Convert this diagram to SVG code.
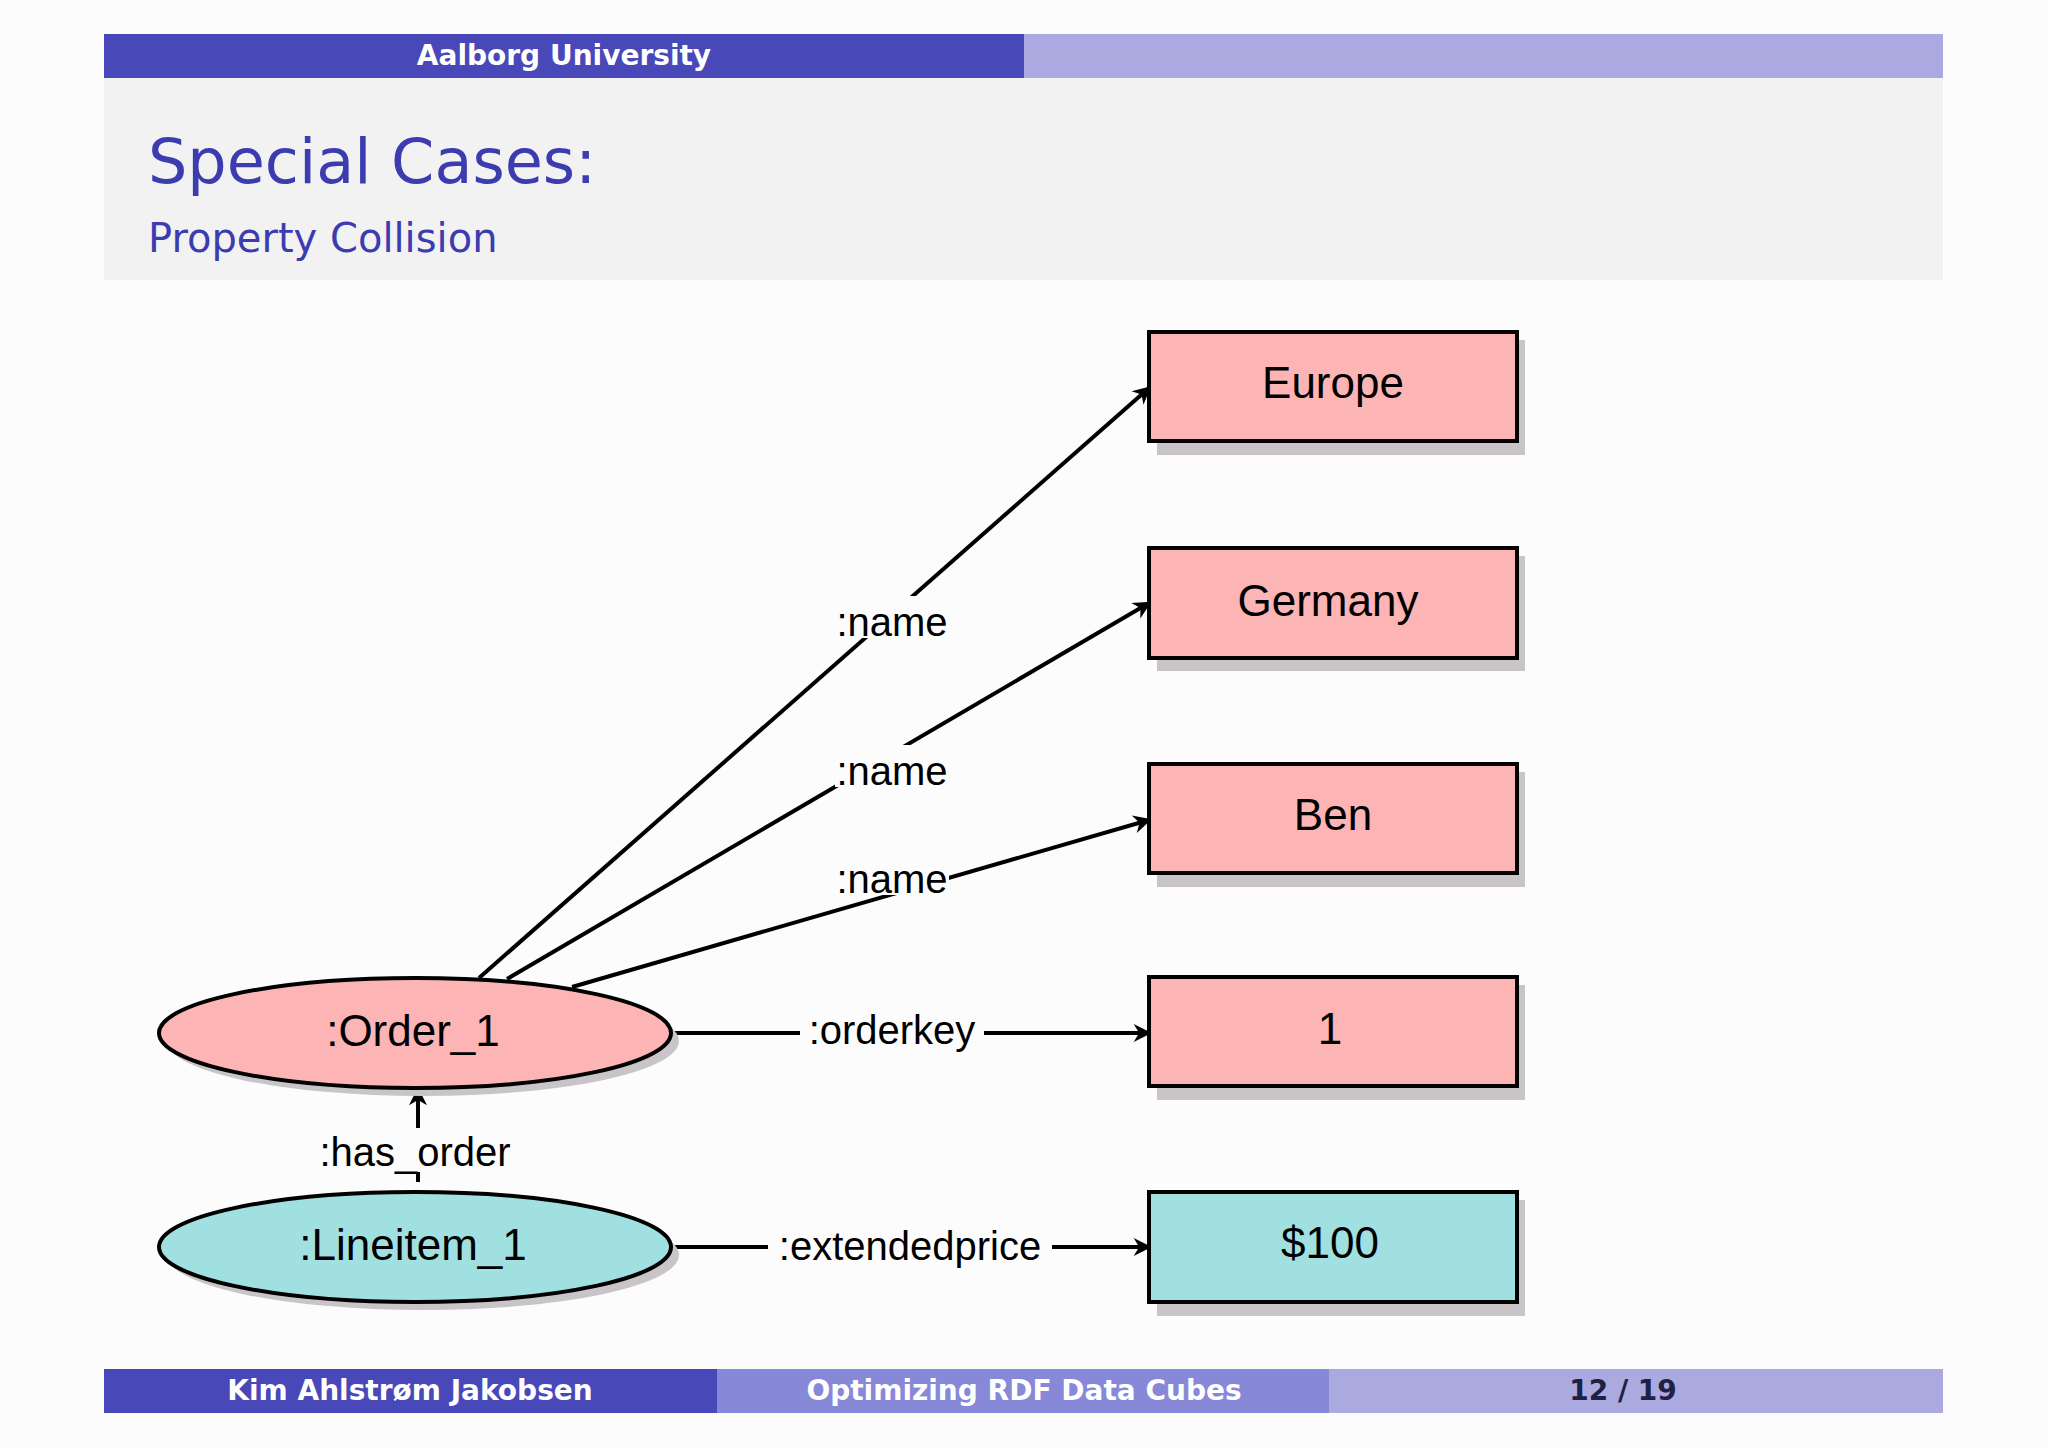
<svg xmlns="http://www.w3.org/2000/svg" width="2048" height="1448" viewBox="0 0 2048 1448">
<defs>
<style>
.hb{font-family:"DejaVu Sans","Liberation Sans",sans-serif;font-weight:bold;font-size:28px;fill:#fff;text-anchor:middle}
.n{font-family:"Liberation Sans",Arial,sans-serif;font-size:44px;text-anchor:middle;fill:#000}
.l{font-family:"Liberation Sans",Arial,sans-serif;font-size:40px;text-anchor:middle;fill:#000}
.box{fill:#fcb4b4;stroke:#000;stroke-width:4}
.sh{fill:#c8c4c8}
.e{stroke:#000;stroke-width:4;fill:none}
.bg{fill:#fcfcfc}
</style>
<marker id="a" viewBox="0 0 20 20" refX="18" refY="10" markerWidth="9" markerHeight="9" markerUnits="userSpaceOnUse" orient="auto" style="overflow:visible">
<path d="M0,0 L20,10 L0,20 L6,10 Z" fill="#000" transform="scale(2) translate(-8,-5)"/>
</marker>
</defs>
<rect width="2048" height="1448" fill="#fcfcfc"/>
<rect x="104" y="34" width="920" height="44" fill="#4848b8"/>
<rect x="1024" y="34" width="919" height="44" fill="#aaaae0"/>
<text class="hb" x="564" y="65">Aalborg University</text>
<rect x="104" y="78" width="1839" height="202" fill="#f2f2f2"/>
<text x="148" y="183" font-family="DejaVu Sans,Liberation Sans,sans-serif" font-size="62" fill="#3c3cb0">Special Cases:</text>
<text x="148" y="252" font-family="DejaVu Sans,Liberation Sans,sans-serif" font-size="40" fill="#3c3cb0">Property Collision</text>
<g id="connectors">
<line class="e" x1="479" y1="978" x2="1149" y2="388" marker-end="url(#a)"/>
<line class="e" x1="507" y1="979" x2="1149" y2="603" marker-end="url(#a)"/>
<line class="e" x1="572" y1="987" x2="1149" y2="820" marker-end="url(#a)"/>
<line class="e" x1="673" y1="1033" x2="1149" y2="1033" marker-end="url(#a)"/>
<line class="e" x1="673" y1="1247" x2="1149" y2="1247" marker-end="url(#a)"/>
<line class="e" x1="418" y1="1182" x2="418" y2="1090" marker-end="url(#a)"/>
<rect class="bg" x="835" y="596" width="114" height="42"/>
<text class="l" x="892" y="636">:name</text>
<rect class="bg" x="835" y="745" width="114" height="42"/>
<text class="l" x="892" y="785">:name</text>
<rect class="bg" x="835" y="853" width="114" height="42"/>
<text class="l" x="892" y="893">:name</text>
<rect class="bg" x="800" y="1010" width="184" height="42"/>
<text class="l" x="892" y="1044">:orderkey</text>
<rect class="bg" x="768" y="1224" width="284" height="42"/>
<text class="l" x="910" y="1260">:extendedprice</text>
<rect class="bg" x="318" y="1128" width="196" height="44"/>
<text class="l" x="415" y="1166">:has_order</text>
</g>
<g id="order1"><ellipse cx="423" cy="1041" rx="256" ry="55" class="sh"/><ellipse cx="415" cy="1033" rx="256" ry="55" fill="#fcb4b4" stroke="#000" stroke-width="4"/><text class="n" x="413" y="1046">:Order_1</text></g>
<g id="lineitem1"><ellipse cx="423" cy="1255" rx="256" ry="55" class="sh"/><ellipse cx="415" cy="1247" rx="256" ry="55" fill="#a0e0e0" stroke="#000" stroke-width="4"/><text class="n" x="413" y="1260">:Lineitem_1</text></g>
<g id="europe"><rect class="sh" x="1157" y="340" width="368" height="115"/><rect class="box" x="1149" y="332" width="368" height="109"/><text class="n" x="1333" y="398">Europe</text></g>
<g id="germany"><rect class="sh" x="1157" y="556" width="368" height="115"/><rect class="box" x="1149" y="548" width="368" height="110"/><text class="n" x="1328" y="616">Germany</text></g>
<g id="ben"><rect class="sh" x="1157" y="772" width="368" height="115"/><rect class="box" x="1149" y="764" width="368" height="109"/><text class="n" x="1333" y="830">Ben</text></g>
<g id="one"><rect class="sh" x="1157" y="985" width="368" height="115"/><rect class="box" x="1149" y="977" width="368" height="109"/><text class="n" x="1330" y="1044">1</text></g>
<g id="price"><rect class="sh" x="1157" y="1200" width="368" height="116"/><rect class="box" x="1149" y="1192" width="368" height="110" style="fill:#a0e0e0"/><text class="n" x="1330" y="1258">$100</text></g>
<rect x="104" y="1369" width="613" height="44" fill="#4848b8"/>
<rect x="717" y="1369" width="612" height="44" fill="#8888d8"/>
<rect x="1329" y="1369" width="614" height="44" fill="#aaaae0"/>
<text class="hb" x="410" y="1400">Kim Ahlstrøm Jakobsen</text>
<text class="hb" x="1024" y="1400">Optimizing RDF Data Cubes</text>
<text class="hb" x="1623" y="1400" style="fill:#202040">12 / 19</text>
</svg>
